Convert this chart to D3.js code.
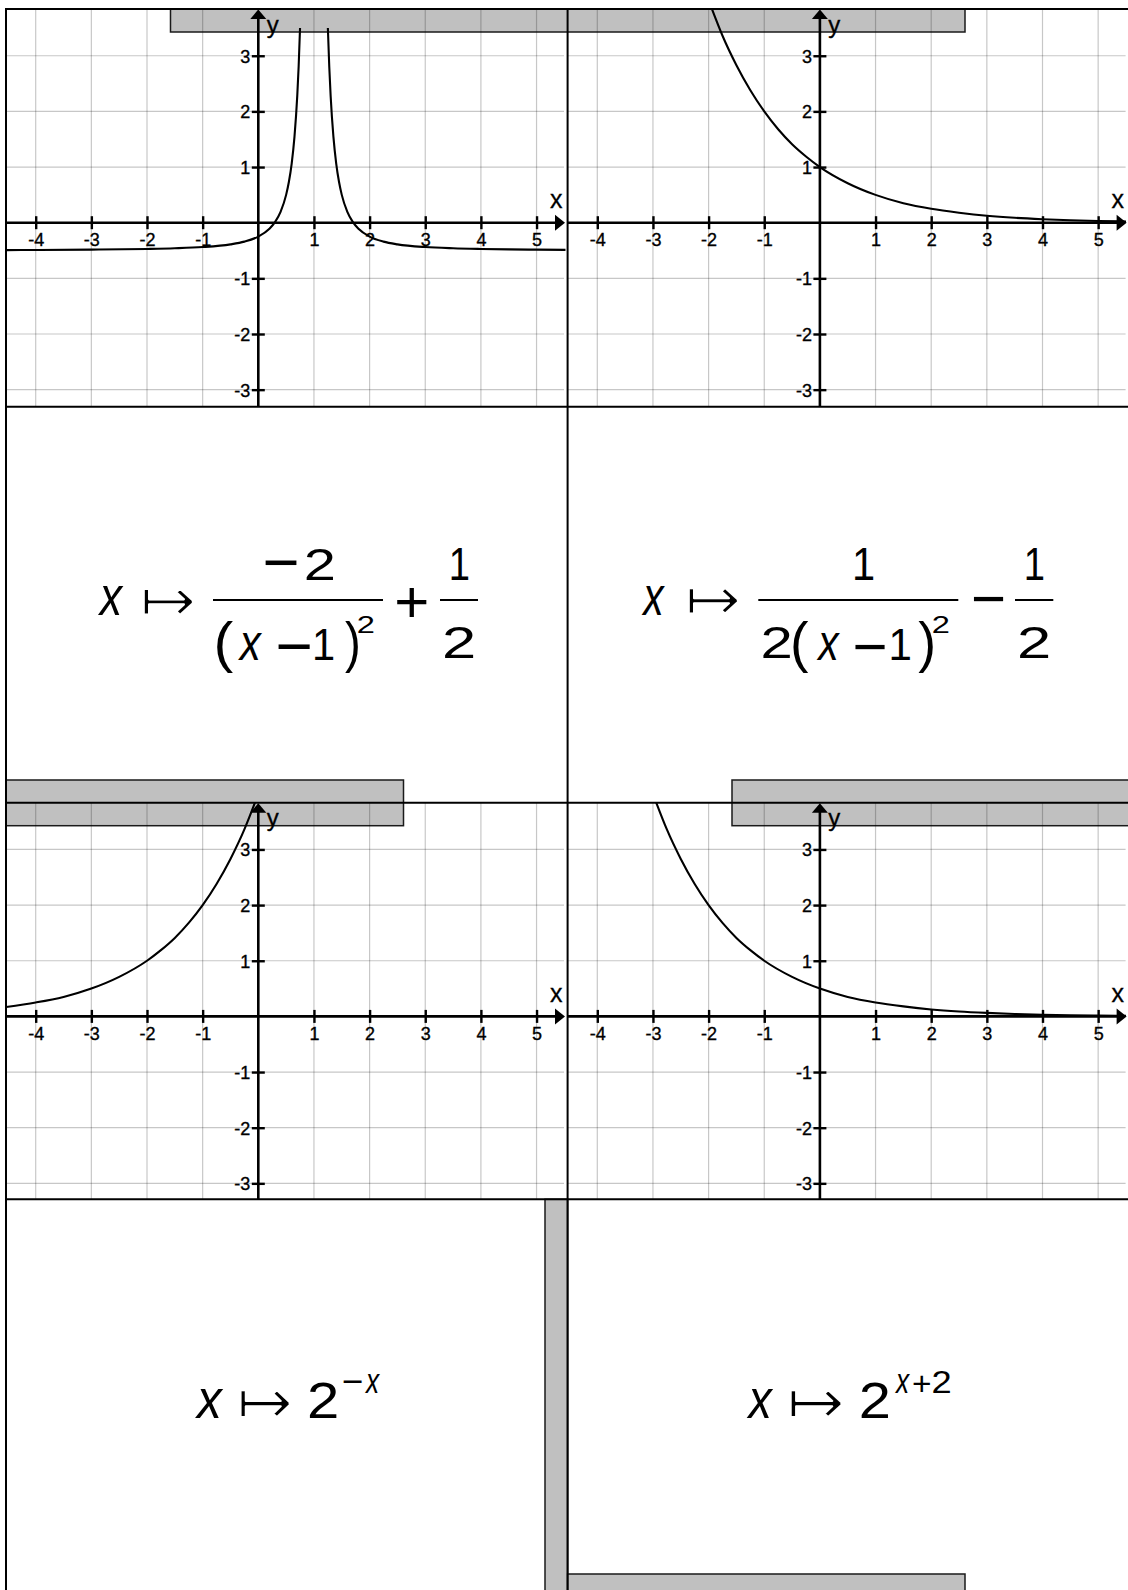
<!DOCTYPE html>
<html><head><meta charset="utf-8">
<script src="https://cdn.jsdelivr.net/npm/d3@7"></script>
<style>html,body{margin:0;padding:0;background:#fff;} svg{display:block;}</style>
</head><body>
<svg id="chart" width="1128" height="1590"></svg>
<script>
// ---------- data ----------
const xTicks = [-4, -3, -2, -1, 1, 2, 3, 4, 5];
const yTicks = [-3, -2, -1, 1, 2, 3];
const gridX = [-4, -3, -2, -1, 0, 1, 2, 3, 4, 5];
const gridY = [-3, -2, -1, 0, 1, 2, 3];

// panel 1 (two branches around x = 1)
const curveALeftX  = [-4.53, -4, -3, -2, -1.5, -1, -0.5, -0.25, 0, 0.2, 0.3, 0.4, 0.5, 0.55, 0.6, 0.65, 0.7, 0.725, 0.75];
const curveALeftY  = [-0.492, -0.49, -0.484, -0.472, -0.46, -0.438, -0.389, -0.34, -0.25, -0.109, 0.01, 0.194, 0.5, 0.735, 1.063, 1.541, 2.278, 2.806, 3.5];
const curveARightX = [1.25, 1.275, 1.3, 1.35, 1.4, 1.45, 1.5, 1.6, 1.7, 1.8, 2, 2.25, 2.5, 3, 3.5, 4, 4.5, 5, 5.52];
const curveARightY = [3.5, 2.806, 2.278, 1.541, 1.063, 0.735, 0.5, 0.194, 0.01, -0.109, -0.25, -0.34, -0.389, -0.438, -0.46, -0.472, -0.48, -0.484, -0.488];
// panel 2
const curveBX = [-1.94, -1.75, -1.5, -1.25, -1, -0.75, -0.5, -0.25, 0, 0.5, 1, 1.5, 2, 2.5, 3, 3.5, 4, 4.5, 5, 5.5];
const curveBY = [3.84, 3.36, 2.83, 2.38, 2, 1.68, 1.41, 1.19, 1, 0.71, 0.5, 0.35, 0.25, 0.18, 0.125, 0.088, 0.063, 0.044, 0.031, 0.022];
// panel 3
const curveCX = [-4.53, -4, -3.5, -3, -2.5, -2, -1.75, -1.5, -1.25, -1, -0.75, -0.5, -0.25, -0.06];
const curveCY = [0.17, 0.25, 0.35, 0.5, 0.71, 1, 1.19, 1.41, 1.68, 2, 2.38, 2.83, 3.36, 3.84];
// panel 4
const curveDX = [-2.94, -2.75, -2.5, -2.25, -2, -1.75, -1.5, -1.25, -1, -0.5, 0, 0.5, 1, 1.5, 2, 2.5, 3, 3.5, 4, 4.5, 5, 5.5];
const curveDY = [3.84, 3.36, 2.83, 2.38, 2, 1.68, 1.41, 1.19, 1, 0.71, 0.5, 0.35, 0.25, 0.18, 0.125, 0.088, 0.063, 0.044, 0.031, 0.022, 0.016, 0.011];

const axisNames = ["x", "y"];

// ---------- layout ----------
const svg = d3.select("#chart");
svg.append("rect").attr("width", 1128).attr("height", 1590).attr("fill", "#fff");

const U = 55.65, OX = 252.3, OY = 213.7, PW = 562, PH = 397;
const colL = [6, 567.6], rowT = [9, 802.7];
const SANS = "'Liberation Sans', Arial, Helvetica, sans-serif";

// gray tabs
const bars = [
  [170.5, 9, 965, 32],
  [6, 780, 403.5, 825.7],
  [732, 780, 1135, 825.7],
  [545, 1199.3, 567.6, 1600],
  [567.6, 1574, 965, 1600]
];
svg.append("g").selectAll("rect").data(bars).join("rect")
  .attr("x", d => d[0]).attr("y", d => d[1])
  .attr("width", d => d[2] - d[0]).attr("height", d => d[3] - d[1])
  .attr("fill", "#c0c0c0").attr("stroke", "#1a1a1a").attr("stroke-width", 1.5);

const zip = (xs, ys) => xs.map((x, i) => [x, ys[i]]);
const panels = [
  {L: colL[0], T: rowT[0], curves: [zip(curveALeftX, curveALeftY), zip(curveARightX, curveARightY)]},
  {L: colL[1], T: rowT[0], curves: [zip(curveBX, curveBY)]},
  {L: colL[0], T: rowT[1], curves: [zip(curveCX, curveCY)]},
  {L: colL[1], T: rowT[1], curves: [zip(curveDX, curveDY)]}
];

panels.forEach((p, i) => {
  const ox = p.L + OX, oy = p.T + OY;
  const x = d3.scaleLinear().domain([0, 1]).range([ox, ox + U]);
  const y = d3.scaleLinear().domain([0, 1]).range([oy, oy - U]);
  const g = svg.append("g");
  const cid = "clip" + i;
  svg.append("clipPath").attr("id", cid).append("rect")
    .attr("x", p.L).attr("y", p.T).attr("width", PW).attr("height", PH);

  // grid
  g.append("g").selectAll("line").data(gridX).join("line")
    .attr("x1", d => x(d)).attr("x2", d => x(d)).attr("y1", p.T).attr("y2", p.T + PH)
    .attr("stroke", "rgba(0,0,0,0.22)").attr("stroke-width", 1.2);
  g.append("g").selectAll("line").data(gridY).join("line")
    .attr("x1", p.L).attr("x2", p.L + 558).attr("y1", d => y(d)).attr("y2", d => y(d))
    .attr("stroke", "rgba(0,0,0,0.22)").attr("stroke-width", 1.2);

  // curves
  const line = d3.line().x(d => x(d[0])).y(d => y(d[1])).curve(d3.curveMonotoneX);
  g.append("g").attr("clip-path", `url(#${cid})`).selectAll("path").data(p.curves).join("path")
    .attr("d", line).attr("fill", "none").attr("stroke", "#000").attr("stroke-width", 2.1);

  // axis lines + arrows
  g.append("line").attr("x1", p.L).attr("x2", p.L + 552).attr("y1", oy).attr("y2", oy)
    .attr("stroke", "#000").attr("stroke-width", 2.6);
  g.append("path").attr("d", `M${p.L + 549},${oy - 8}L${p.L + 559},${oy}L${p.L + 549},${oy + 8}Z`).attr("fill", "#000");
  g.append("line").attr("x1", ox).attr("x2", ox).attr("y1", p.T + PH).attr("y2", p.T + 7)
    .attr("stroke", "#000").attr("stroke-width", 2.6);
  g.append("path").attr("d", `M${ox - 8},${p.T + 10}L${ox},${p.T + 0.5}L${ox + 8},${p.T + 10}Z`).attr("fill", "#000");

  // axes (ticks + labels)
  const ax = g.append("g").attr("transform", `translate(0,${oy - 6.5})`)
    .call(d3.axisBottom(x).tickValues(xTicks).tickSize(13).tickPadding(4.5).tickFormat(d => String(d)));
  const ay = g.append("g").attr("transform", `translate(${ox + 6.5},0)`)
    .call(d3.axisLeft(y).tickValues(yTicks).tickSize(13).tickPadding(1.5).tickFormat(d => String(d)));
  [ax, ay].forEach(a => {
    a.select(".domain").remove();
    a.selectAll(".tick line").attr("stroke", "#000").attr("stroke-width", 2.4);
    a.selectAll(".tick text").attr("fill", "#000").attr("stroke", "#000").attr("stroke-width", 0.35)
      .style("font-family", SANS).style("font-size", "18px");
  });
  ay.selectAll(".tick text").attr("dy", "0.36em");

  g.append("text").text(axisNames[0]).attr("x", p.L + 544).attr("y", oy - 14.4)
    .attr("stroke", "#000").attr("stroke-width", 0.3)
    .style("font-family", SANS).style("font-size", "25px");
  g.append("text").text(axisNames[1]).attr("x", ox + 8.4).attr("y", p.T + 23.5)
    .attr("stroke", "#000").attr("stroke-width", 0.3)
    .style("font-family", SANS).style("font-size", "24px");
});

// ---------- formulas ----------
const cv = document.createElement("canvas").getContext("2d");
const FAM = {
  r: ["normal", "'Liberation Sans'"],
  i: ["italic", "'Liberation Sans'"],
  dv: ["normal", "'DejaVu Sans'"]
};
function glyph(t, f, mode, box, erode) {
  const [st, fam] = FAM[f];
  cv.font = `${st} 100px ${fam}`;
  const m = cv.measureText(t);
  const l = m.actualBoundingBoxLeft, r = m.actualBoundingBoxRight;
  const a = m.actualBoundingBoxAscent, dsc = m.actualBoundingBoxDescent;
  const iw = l + r, ih = a + dsc;
  let sx, sy, tx, ty;
  if (mode === "box") {
    const [x0, y0, x1, y1] = box;
    sx = (x1 - x0) / iw; sy = (y1 - y0) / ih;
    tx = x0 + l * sx; ty = y0 + a * sy;
  } else { // "w": [x0, x1, cy]
    const [x0, x1, cy] = box;
    sx = sy = (x1 - x0) / iw;
    tx = x0 + l * sx; ty = cy - (dsc - a) / 2 * sy;
  }
  const el = svg.append("text").text(t)
    .attr("transform", `translate(${tx},${ty}) scale(${sx},${sy})`)
    .style("font-family", fam).style("font-style", st).style("font-size", "100px")
    .attr("fill", "#000");
  if (erode) {
    el.attr("stroke", "#fff").attr("stroke-width", erode / ((sx + sy) / 2)).attr("stroke-linejoin", "round");
  }
}
const F = [
  // formula 1
  ["x", "i", "box", [98, 585, 123.5, 615]],
  ["\u21A6", "dv", "box", [143, 588, 193, 615], 2.3],
  ["\u2212", "r", "w", [265, 296.7, 563.3]],
  ["2", "r", "box", [306.7, 548.3, 333.3, 580]],
  ["(", "r", "box", [217, 620, 233, 673]],
  ["x", "i", "box", [238, 633.3, 262, 660]],
  ["\u2212", "r", "w", [278, 310, 646.7]],
  ["1", "r", "box", [315, 630, 333.3, 660]],
  [")", "r", "box", [345, 620, 358.3, 673]],
  ["2", "r", "box", [358.3, 616.7, 373.3, 633.3]],
  ["+", "r", "box", [396.7, 586.7, 426.7, 616.7]],
  ["1", "r", "box", [451.5, 548.3, 468.3, 580]],
  ["2", "r", "box", [445, 626.7, 473.3, 658.3]],
  // formula 2
  ["x", "i", "box", [641.7, 585, 665, 615]],
  ["\u21A6", "dv", "box", [688.3, 588.3, 738.3, 615], 2.3],
  ["1", "r", "box", [855, 548.3, 873.3, 580]],
  ["2", "r", "box", [763.3, 626.7, 790, 658.3]],
  ["(", "r", "box", [793.3, 620, 808.3, 673]],
  ["x", "i", "box", [816.7, 633.3, 840, 660]],
  ["\u2212", "r", "w", [855, 885, 646.7]],
  ["1", "r", "box", [891.5, 630, 910, 660]],
  [")", "r", "box", [918.3, 620, 933.3, 673]],
  ["2", "r", "box", [933.3, 616.7, 948.3, 633.3]],
  ["\u2212", "r", "w", [973.3, 1003.3, 599]],
  ["1", "r", "box", [1026.5, 548.3, 1043.3, 580]],
  ["2", "r", "box", [1020, 626.7, 1048.3, 658.3]],
  // formula 3
  ["x", "i", "box", [195, 1388.3, 223.3, 1418.3]],
  ["\u21A6", "dv", "box", [240, 1390, 290, 1418.3], 2.3],
  ["2", "r", "box", [310, 1383.3, 336.7, 1418.3]],
  ["\u2212", "r", "w", [343.3, 361.7, 1381.7]],
  ["x", "i", "box", [365, 1374, 380, 1393.3]],
  // formula 4
  ["x", "i", "box", [746.7, 1388.3, 773.3, 1418.3]],
  ["\u21A6", "dv", "box", [790, 1390, 841.7, 1418.3], 2.3],
  ["2", "r", "box", [861.7, 1383.3, 888.3, 1418.3]],
  ["x", "i", "box", [895, 1374, 910, 1393.3]],
  ["+", "r", "box", [913.3, 1375, 930, 1391.7]],
  ["2", "r", "box", [933.3, 1371.7, 950, 1393.3]]
];
F.forEach(d => glyph(d[0], d[1], d[2], d[3], d[4]));

const fracBars = [[213, 383, 600], [440, 478, 600], [758.3, 958.3, 600], [1015, 1053.3, 600]];
svg.append("g").selectAll("line").data(fracBars).join("line")
  .attr("x1", d => d[0]).attr("x2", d => d[1]).attr("y1", d => d[2]).attr("y2", d => d[2])
  .attr("stroke", "#000").attr("stroke-width", 2);

// ---------- card borders ----------
const hLines = [9, 406.7, 802.7, 1199.3];
const vLines = [6, 567.6];
svg.append("g").selectAll("line").data(hLines).join("line")
  .attr("x1", 5).attr("x2", 1135).attr("y1", d => d).attr("y2", d => d)
  .attr("stroke", "#000").attr("stroke-width", 2);
svg.append("g").selectAll("line").data(vLines).join("line")
  .attr("x1", d => d).attr("x2", d => d).attr("y1", 8).attr("y2", 1600)
  .attr("stroke", "#000").attr("stroke-width", 2);
</script>
</body></html>
